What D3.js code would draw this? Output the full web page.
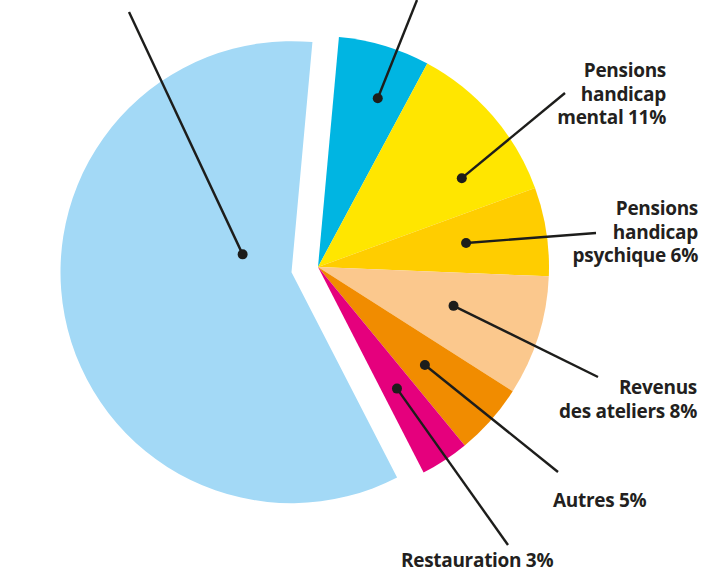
<!DOCTYPE html>
<html>
<head>
<meta charset="utf-8">
<script src="https://cdn.jsdelivr.net/npm/d3@7"></script>
<style>
  html, body { margin: 0; padding: 0; background: #fff; }
  svg { display: block; }
  .lbl { font-family: "Open Sans", sans-serif; font-weight: bold; font-size: 19px; letter-spacing: -0.3px; fill: #231f20; }
</style>
</head>
<body>
<svg width="704" height="573"></svg>
<script>
// slices, clockwise from the top (shares in %)
const categories = ["Haut1", "Pensions handicap mental", "Pensions handicap psychique", "Revenus des ateliers", "Autres", "Restauration", "Haut2"];
const values = [6.4, 11.6, 6.2, 8.4, 5.0, 3.4, 59.0];
const labelLines = [
  [],
  ["Pensions", "handicap", "mental 11%"],
  ["Pensions", "handicap", "psychique 6%"],
  ["Revenus", "des ateliers 8%"],
  ["Autres 5%"],
  ["Restauration 3%"],
  []
];
const colors = ["#00b5e2", "#ffe600", "#ffcd00", "#fbc88d", "#f18c00", "#e5007d", "#a3d9f6"];

// callout layout: dot (angle in deg, radius), line end, label anchor
const callouts = [
  { a: 19.5, r: 179, end: [417, 0], lx: null },
  { a: 58.3, r: 169, end: [565, 93], lx: 666, ly: 77, anchor: "end" },
  { a: 80.8, r: 150, end: [596, 233], lx: 698, ly: 215, anchor: "end" },
  { a: 106, r: 141, end: [598, 377], lx: 697, ly: 394, anchor: "end" },
  { a: 132.5, r: 145, end: [558, 472], lx: 553, ly: 507, anchor: "start" },
  { a: 147, r: 145, end: [508, 545], lx: 401, ly: 567, anchor: "start" },
  { a: 290, r: 52, end: [129, 12], lx: null }
];

const svg = d3.select("svg");
const cx = 318, cy = 267, radius = 231, explode = 27;
const start = 5.2 * Math.PI / 180;

const pie = d3.pie().sort(null).value(d => d).startAngle(start).endAngle(start + 2 * Math.PI);
const arcs = pie(values);
const arc = d3.arc().innerRadius(0).outerRadius(radius);

const g = svg.append("g").attr("transform", `translate(${cx},${cy})`);

// offset of each slice (only the big one is pulled out)
function shift(d, i) {
  if (i !== values.length - 1) return [0, 0];
  const m = (d.startAngle + d.endAngle) / 2;
  return [Math.sin(m) * explode, -Math.cos(m) * explode];
}

g.selectAll("path")
  .data(arcs)
  .enter().append("path")
  .attr("d", arc)
  .attr("fill", (d, i) => colors[i])
  .attr("transform", (d, i) => `translate(${shift(d, i)})`);

// leader lines + dots
arcs.forEach((d, i) => {
  const c = callouts[i];
  const s = shift(d, i);
  const ang = c.a * Math.PI / 180;
  const x = cx + s[0] + Math.sin(ang) * c.r;
  const y = cy + s[1] - Math.cos(ang) * c.r;
  svg.append("line")
    .attr("x1", x).attr("y1", y)
    .attr("x2", c.end[0]).attr("y2", c.end[1])
    .attr("stroke", "#1d1d1b")
    .attr("stroke-width", 2.4);
  svg.append("circle")
    .attr("cx", x).attr("cy", y).attr("r", 5)
    .attr("fill", "#1d1d1b");

  if (c.lx !== null) {
    const t = svg.append("text")
      .attr("class", "lbl")
      .attr("text-anchor", c.anchor)
      .attr("x", c.lx).attr("y", c.ly);
    labelLines[i].forEach((ln, k) => {
      t.append("tspan").attr("x", c.lx).attr("dy", k === 0 ? 0 : 23.5).text(ln);
    });
  }
});
</script>
</body>
</html>
